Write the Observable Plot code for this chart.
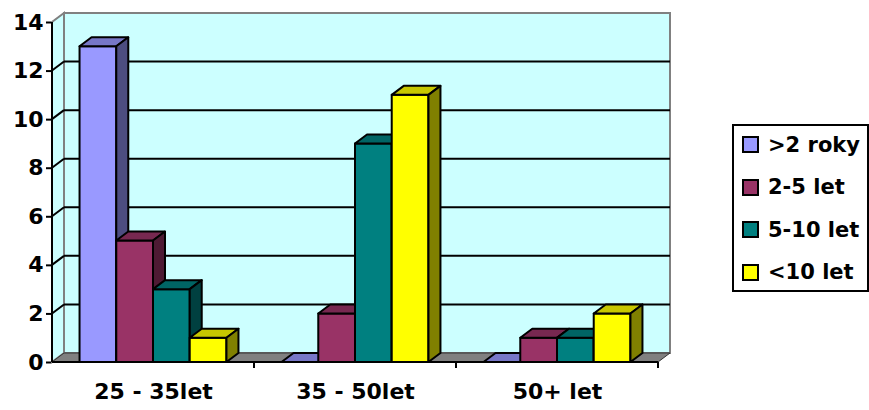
<!DOCTYPE html>
<html><head><meta charset="utf-8">
<script src="https://cdn.jsdelivr.net/npm/d3@7"></script>
<script src="https://cdn.jsdelivr.net/npm/@observablehq/plot@0.6"></script>
<style>
body{margin:0;background:#fff;}
#wrap{position:relative;width:869px;height:410px;overflow:hidden;}
#legend{position:absolute;left:732px;top:124px;width:137px;height:168px;border:2px solid #000;box-sizing:border-box;background:#fff;font-family:"DejaVu Sans";font-weight:bold;font-size:21px;}
.row{position:absolute;left:8px;height:24px;display:flex;align-items:center;white-space:nowrap;}
.sw{width:13px;height:13px;border:2px solid #000;margin-right:9px;}
</style></head>
<body><div id="wrap"></div>
<script>
const categories = ["25 - 35let", "35 - 50let", "50+ let"];
const seriesNames = [">2 roky", "2-5 let", "5-10 let", "<10 let"];
const sGt2 = [13, 0, 0];
const s2to5 = [5, 2, 1];
const s5to10 = [3, 9, 1];
const sLt10 = [1, 11, 2];
const seriesColors = ["#9999FF", "#993366", "#008080", "#FFFF00"];
const yTicks = [0, 2, 4, 6, 8, 10, 12, 14];

const seriesValues = [sGt2, s2to5, s5to10, sLt10];
const data = [];
categories.forEach((c, i) => seriesNames.forEach((s, j) => data.push({category: c, series: s, value: seriesValues[j][i]})));

const DX = 12, DY = -9;
const shade = (col, k) => { const c = d3.rgb(col); return d3.rgb(c.r * k, c.g * k, c.b * k).formatHex(); };

function bw(x) {
  return typeof x.bandwidth === "function" ? x.bandwidth() : (x(categories[1]) - x(categories[0]));
}

function walls(index, scales) {
  const {x, y} = scales;
  const g = d3.create("svg:g");
  const w = bw(x);
  const x0 = x(categories[0]), x1 = x(categories[categories.length - 1]) + w;
  const y0 = y(0), yT = y(yTicks[yTicks.length - 1]);
  g.append("rect").attr("x", x0 + DX).attr("y", yT + DY).attr("width", x1 - x0).attr("height", y0 - yT)
    .attr("fill", "#CCFFFF").attr("stroke", "#808080").attr("stroke-width", 2);
  g.append("polygon").attr("points", [[x0, y0], [x0, yT], [x0 + DX, yT + DY], [x0 + DX, y0 + DY]].join(" "))
    .attr("fill", "#CCFFFF").attr("stroke", "#808080").attr("stroke-width", 2);
  yTicks.slice(1, -1).forEach(v => {
    const yy = y(v);
    g.append("line").attr("x1", x0 + DX).attr("x2", x1 + DX).attr("y1", yy + DY).attr("y2", yy + DY)
      .attr("stroke", "#000").attr("stroke-width", 2);
    g.append("line").attr("x1", x0).attr("x2", x0 + DX).attr("y1", yy).attr("y2", yy + DY)
      .attr("stroke", "#000").attr("stroke-width", 2);
  });
  g.append("polygon").attr("points", [[x0, y0], [x1, y0], [x1 + DX, y0 + DY], [x0 + DX, y0 + DY]].join(" "))
    .attr("fill", "#808080").attr("stroke", "#333").attr("stroke-width", 1);
  return g.node();
}

function bars(index, scales) {
  const {x, y} = scales;
  const g = d3.create("svg:g").attr("stroke", "#000").attr("stroke-width", 2).attr("stroke-linejoin", "round");
  const inner = d3.scaleBand().domain(seriesNames).range([0, bw(x)]).paddingInner(0).paddingOuter(0.75);
  const b = inner.bandwidth();
  const y0 = y(0);
  data.forEach(d => {
    const col = seriesColors[seriesNames.indexOf(d.series)];
    const bx = x(d.category) + inner(d.series);
    const yv = y(d.value);
    if (yv < y0) g.append("rect").attr("x", bx).attr("y", yv).attr("width", b).attr("height", y0 - yv).attr("fill", col);
    g.append("polygon").attr("points", [[bx, yv], [bx + b, yv], [bx + b + DX, yv + DY], [bx + DX, yv + DY]].join(" "))
      .attr("fill", shade(col, 0.78));
    g.append("polygon").attr("points", [[bx + b, yv], [bx + b + DX, yv + DY], [bx + b + DX, y0 + DY], [bx + b, y0]].join(" "))
      .attr("fill", shade(col, 0.5));
  });
  return g.node();
}

function axes(index, scales) {
  const {x, y} = scales;
  const g = d3.create("svg:g").attr("stroke", "#000").attr("stroke-width", 2);
  const w = bw(x);
  const x0 = x(categories[0]), x1 = x(categories[categories.length - 1]) + w;
  const y0 = y(0), yT = y(yTicks[yTicks.length - 1]);
  g.append("line").attr("x1", x0).attr("x2", x0).attr("y1", y0).attr("y2", yT);
  g.append("line").attr("x1", x0).attr("x2", x1).attr("y1", y0).attr("y2", y0);
  categories.forEach(c => {
    const xx = x(c) + w;
    g.append("line").attr("x1", xx).attr("x2", xx).attr("y1", y0).attr("y2", y0 + 6);
  });
  return g.node();
}

const plot = Plot.plot({
  width: 869, height: 410,
  marginLeft: 51, marginRight: 211, marginTop: 22, marginBottom: 48,
  style: {fontFamily: "DejaVu Sans", fontWeight: "bold", background: "#fff", color: "#000"},
  x: {type: "band", domain: categories, padding: 0, axis: null},
  y: {domain: [0, 14], axis: null},
  marks: [
    walls,
    bars,
    axes,
    Plot.axisY({ticks: yTicks, tickSize: 5, tickPadding: 3, fontSize: 22, strokeWidth: 2, tickFormat: d => d}),
    Plot.axisX({tickSize: 0, tickPadding: 21, fontSize: 22})
  ]
});
document.getElementById("wrap").append(plot);

const legend = document.createElement("div");
legend.id = "legend";
const rowCenters = [144.5, 187, 229.5, 272];
seriesNames.forEach((s, j) => {
  const r = document.createElement("div");
  r.className = "row";
  r.style.top = (rowCenters[j] - 126 - 12) + "px";
  const sw = document.createElement("div");
  sw.className = "sw";
  sw.style.background = seriesColors[j];
  const t = document.createElement("span");
  t.textContent = s;
  r.append(sw, t);
  legend.append(r);
});
document.getElementById("wrap").append(legend);
</script>
</body></html>
